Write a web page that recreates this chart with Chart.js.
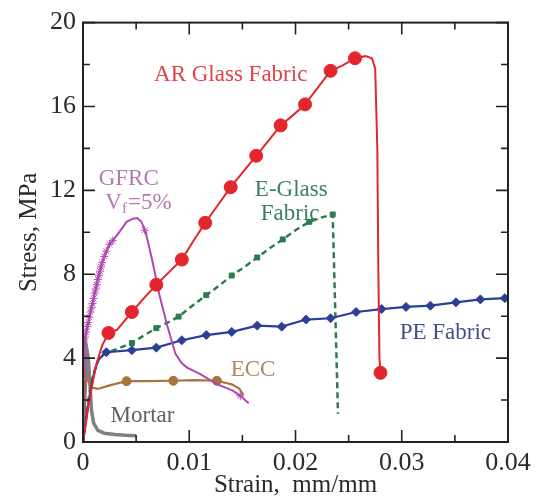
<!DOCTYPE html>
<html><head><meta charset="utf-8">
<script src="https://cdn.jsdelivr.net/npm/chart.js@4.4.0/dist/chart.umd.min.js"></script>
<style>html,body{margin:0;padding:0;background:#fff}#wrap{width:540px;height:504px}</style>
</head><body><div id="wrap"><canvas id="c" width="540" height="504"></canvas></div>
<script>
// ---- data (strain mm/mm, stress MPa) ----
const arX = [0, 0.0006, 0.0012, 0.0018, 0.0024, 0.0032, 0.0046, 0.0058, 0.0069, 0.0081, 0.0093, 0.0104, 0.0115, 0.0127, 0.0139, 0.0151, 0.0163, 0.0175, 0.0186, 0.0198, 0.0209, 0.0221, 0.0233, 0.0244, 0.0256, 0.0266, 0.0272, 0.0275, 0.0277, 0.0278, 0.0279, 0.0280];
const arY = [0, 2.0, 3.6, 4.6, 5.2, 5.35, 6.2, 6.9, 7.5, 8.1, 8.7, 9.6, 10.45, 11.3, 12.15, 12.9, 13.65, 14.4, 15.1, 15.6, 16.1, 16.9, 17.7, 17.95, 18.3, 18.4, 18.3, 17.8, 14.0, 8.0, 4.0, 3.3];
const arMarkX = [0.0024, 0.0046, 0.0069, 0.0093, 0.0115, 0.0139, 0.0163, 0.0186, 0.0209, 0.0233, 0.0256, 0.0280];
const arMarkY = [5.2, 6.2, 7.5, 8.7, 10.45, 12.15, 13.65, 15.1, 16.1, 17.7, 18.3, 3.3];

const egX = [0, 0.0005, 0.0010, 0.0016, 0.0025, 0.0035, 0.0046, 0.0058, 0.0069, 0.0080, 0.0090, 0.0103, 0.0116, 0.0128, 0.0140, 0.0152, 0.0164, 0.0176, 0.0188, 0.0200, 0.0213, 0.0224, 0.0235, 0.0240];
const egY = [0, 2.0, 3.3, 4.1, 4.3, 4.5, 4.72, 5.1, 5.43, 5.7, 5.98, 6.5, 7.0, 7.45, 7.94, 8.35, 8.8, 9.25, 9.66, 10.1, 10.5, 10.7, 10.85, 1.35];
const egMarkX = [0.0046, 0.0069, 0.0090, 0.0116, 0.0140, 0.0164, 0.0188, 0.0213, 0.0235];
const egMarkY = [4.72, 5.43, 5.98, 7.0, 7.94, 8.8, 9.66, 10.5, 10.85];

const peX = [0, 0.0004, 0.0009, 0.0014, 0.0022, 0.0046, 0.0069, 0.0093, 0.0116, 0.0140, 0.0164, 0.0187, 0.0210, 0.0233, 0.0257, 0.0281, 0.0304, 0.0327, 0.0351, 0.0374, 0.0397, 0.0408];
const peY = [0, 1.5, 3.0, 3.9, 4.28, 4.38, 4.5, 4.85, 5.1, 5.25, 5.55, 5.5, 5.84, 5.9, 6.2, 6.34, 6.44, 6.5, 6.66, 6.8, 6.86, 6.92];
const peMarkX = [0.0022, 0.0046, 0.0069, 0.0093, 0.0116, 0.0140, 0.0164, 0.0187, 0.0210, 0.0233, 0.0257, 0.0281, 0.0304, 0.0327, 0.0351, 0.0374, 0.0397];
const peMarkY = [4.28, 4.38, 4.5, 4.85, 5.1, 5.25, 5.55, 5.5, 5.84, 5.9, 6.2, 6.34, 6.44, 6.5, 6.66, 6.8, 6.86];

const gfX = [0, 0.0001, 0.0002, 0.0004, 0.0006, 0.0008, 0.0010, 0.0012, 0.0014, 0.0016, 0.0018, 0.0020, 0.0022, 0.0025, 0.0028, 0.0034, 0.0041, 0.0047, 0.0051, 0.0055, 0.0059, 0.0065, 0.0072, 0.0079, 0.0087, 0.0093, 0.0098, 0.0110, 0.0126, 0.0141, 0.0148, 0.0153, 0.0156];
const gfY = [0, 2.5, 5.0, 5.5, 5.95, 6.4, 6.85, 7.3, 7.75, 8.15, 8.55, 8.85, 9.1, 9.43, 9.6, 10.0, 10.5, 10.65, 10.68, 10.5, 10.0, 8.7, 7.0, 5.6, 4.2, 3.75, 3.55, 3.25, 2.76, 2.45, 2.2, 1.98, 1.85];
const gfMarkX = [0.0002, 0.0003, 0.0004, 0.0005, 0.0006, 0.0007, 0.0008, 0.0009, 0.0010, 0.0011, 0.0012, 0.0013, 0.0014, 0.0015, 0.0016, 0.0017, 0.0018, 0.0020, 0.0022, 0.0025, 0.0028, 0.0058, 0.0148];
const gfMarkY = [5.0, 5.25, 5.5, 5.7, 5.95, 6.2, 6.4, 6.6, 6.85, 7.1, 7.3, 7.5, 7.75, 7.95, 8.15, 8.35, 8.55, 8.85, 9.1, 9.43, 9.6, 10.1, 2.2];

const ecX = [0, 0.0001, 0.0002, 0.0003, 0.0005, 0.0008, 0.0014, 0.0025, 0.0041, 0.0060, 0.0085, 0.0105, 0.0126, 0.0140, 0.0147, 0.0151];
const ecY = [0, 1.5, 2.6, 3.2, 2.9, 2.6, 2.53, 2.7, 2.9, 2.9, 2.92, 2.95, 2.92, 2.75, 2.55, 2.25];
const ecMarkX = [0.0041, 0.0085, 0.0126];
const ecMarkY = [2.9, 2.92, 2.92];

const moX = [0, 0.0002, 0.0004, 0.0005, 0.0006, 0.0008, 0.0010, 0.0014, 0.0020, 0.0030, 0.0040, 0.0050];
const moY = [0, 2.5, 4.3, 4.0, 3.2, 1.5, 0.9, 0.55, 0.42, 0.36, 0.32, 0.3];

const xTickVals = [0, 0.01, 0.02, 0.03, 0.04];
const xTickLabels = ['0', '0.01', '0.02', '0.03', '0.04'];
const xMinorVals = [0.005, 0.015, 0.025, 0.035];
const yTickVals = [0, 4, 8, 12, 16, 20];
const yTickLabels = ['0', '4', '8', '12', '16', '20'];
const yMinorVals = [2, 6, 10, 14, 18];

const pts = (xs, ys) => xs.map((v, i) => ({x: v, y: ys[i]}));
const FONT = "'Liberation Serif', 'Times New Roman', Times, serif";

const C = {
  ar: '#e3262d', eg: '#2f7a50', pe: '#2c3f97', gf: '#b048b0', ec: '#a8743a', mo: '#7f7f7f'
};

function lineDS(label, xs, ys, color, width, order, dash) {
  return {label, data: pts(xs, ys), showLine: true, borderColor: color, borderWidth: width,
    borderDash: dash || [], pointRadius: 0, tension: 0, order, fill: false};
}
function markDS(label, xs, ys, color, style, r, order, border) {
  return {label, data: pts(xs, ys), showLine: false, pointStyle: style, pointRadius: r,
    pointBackgroundColor: color, pointBorderColor: border || color, pointBorderWidth: 1, order};
}

const annot = {
  id: 'annot',
  afterDatasetsDraw(chart) {
    const {ctx, chartArea: a, scales: {x, y}} = chart;
    ctx.save();
    ctx.strokeStyle = '#222'; ctx.lineWidth = 2;
    ctx.strokeRect(a.left, a.top, a.right - a.left, a.bottom - a.top);
    ctx.lineWidth = 1.6;
    const tick = (vals, len, axis) => vals.forEach(v => {
      ctx.beginPath();
      if (axis === 'x') {
        const px = x.getPixelForValue(v);
        ctx.moveTo(px, a.bottom); ctx.lineTo(px, a.bottom - len);
        ctx.moveTo(px, a.top); ctx.lineTo(px, a.top + len);
      } else {
        const py = y.getPixelForValue(v);
        ctx.moveTo(a.left, py); ctx.lineTo(a.left + len, py);
        ctx.moveTo(a.right, py); ctx.lineTo(a.right - len, py);
      }
      ctx.stroke();
    });
    tick(xTickVals, 12, 'x'); tick(xMinorVals, 7, 'x');
    tick(yTickVals, 12, 'y'); tick(yMinorVals, 7, 'y');
    const txt = (s, vx, vy, color, align) => {
      ctx.fillStyle = color; ctx.textAlign = align || 'center'; ctx.textBaseline = 'middle';
      ctx.fillText(s, x.getPixelForValue(vx), y.getPixelForValue(vy));
    };
    ctx.font = `23px ${FONT}`;
    txt('AR Glass Fabric', 0.0139, 17.5, '#e0444a');
    txt('E-Glass', 0.0196, 12.03, '#3d7e64');
    txt('Fabric', 0.0195, 10.87, '#3d7e64');
    txt('PE Fabric', 0.0341, 5.18, '#44508a');
    txt('ECC', 0.0160, 3.43, '#b0885a');
    txt('Mortar', 0.0056, 1.24, '#606060');
    txt('GFRC', 0.0043, 12.56, '#b578b5');
    const gx = x.getPixelForValue(0.0021), gy = y.getPixelForValue(11.4);
    ctx.fillStyle = '#b578b5'; ctx.textAlign = 'left'; ctx.textBaseline = 'middle';
    ctx.fillText('V', gx, gy);
    const w1 = ctx.measureText('V').width;
    ctx.font = `15px ${FONT}`;
    ctx.fillText('f', gx + w1, gy + 6);
    const w2 = ctx.measureText('f').width;
    ctx.font = `23px ${FONT}`;
    ctx.fillText('=5%', gx + w1 + w2 + 1, gy);
    ctx.restore();
  }
};

new Chart(document.getElementById('c'), {
  type: 'scatter',
  data: {
    datasets: [
      markDS('AR markers', arMarkX, arMarkY, C.ar, 'circle', 6.5, 0),
      lineDS('AR Glass Fabric', arX, arY, C.ar, 2, 1),
      markDS('GFRC markers', gfMarkX, gfMarkY, C.gf, 'star', 4, 2),
      lineDS('GFRC', gfX, gfY, C.gf, 2, 3),
      markDS('PE markers', peMarkX, peMarkY, C.pe, 'rectRot', 4.5, 4),
      lineDS('PE Fabric', peX, peY, C.pe, 2.2, 5),
      markDS('E-Glass markers', egMarkX, egMarkY, C.eg, 'rect', 3.5, 6),
      lineDS('E-Glass Fabric', egX, egY, C.eg, 2.5, 7, [6, 4]),
      markDS('ECC markers', ecMarkX, ecMarkY, C.ec, 'circle', 4.5, 8),
      lineDS('ECC', ecX, ecY, C.ec, 2.2, 9),
      lineDS('Mortar', moX, moY, C.mo, 3.5, 10)
    ]
  },
  options: {
    responsive: false, animation: false, devicePixelRatio: 1,
    layout: {padding: {left: 0, top: 17, right: 32, bottom: 0}},
    plugins: {legend: {display: false}, tooltip: {enabled: false}},
    scales: {
      x: {
        type: 'linear', min: 0, max: 0.04,
        afterBuildTicks: s => { s.ticks = xTickVals.map(v => ({value: v})); },
        afterFit: s => { s.height = 62; },
        grid: {display: false, drawTicks: false},
        border: {display: false},
        ticks: {autoSkip: false, maxRotation: 0, padding: 6, color: '#2a2a2a',
          font: {family: FONT, size: 26}, callback: (v, i) => xTickLabels[i]},
        title: {display: true, text: 'Strain,  mm/mm', color: '#2a2a2a',
          font: {family: FONT, size: 25}, padding: {top: 0, bottom: 4}}
      },
      y: {
        type: 'linear', min: 0, max: 20,
        afterBuildTicks: s => { s.ticks = yTickVals.map(v => ({value: v})); },
        afterFit: s => { s.width = 83; },
        grid: {display: false, drawTicks: false},
        border: {display: false},
        ticks: {autoSkip: false, padding: 7, color: '#2a2a2a',
          font: {family: FONT, size: 26}, callback: (v, i) => yTickLabels[i]},
        title: {display: true, text: 'Stress, MPa', color: '#2a2a2a',
          font: {family: FONT, size: 25}, padding: {top: 14, bottom: 0}}
      }
    }
  },
  plugins: [annot]
});
</script>
</body></html>
